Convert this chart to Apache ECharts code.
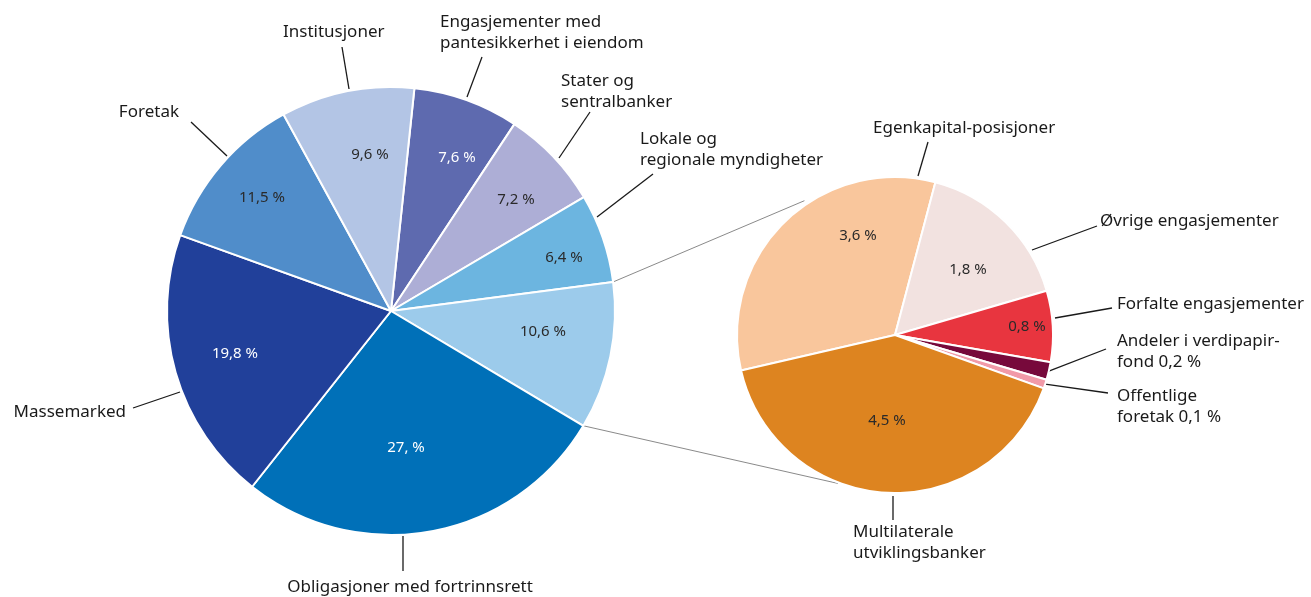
<!DOCTYPE html>
<html><head><meta charset="utf-8">
<script src="https://cdn.jsdelivr.net/npm/echarts@6/dist/echarts.min.js"></script>
<style>html,body{margin:0;padding:0;background:#fff}#c{width:1311px;height:597px}</style>
</head><body><div id="c"></div>
<script>
// ---------- DATA ----------
const mainCategories = ['Engasjementer med pantesikkerhet i eiendom', 'Stater og sentralbanker', 'Lokale og regionale myndigheter', 'Andre (utdypet)', 'Obligasjoner med fortrinnsrett', 'Massemarked', 'Foretak', 'Institusjoner'];
const mainValues = [7.6, 7.2, 6.4, 10.6, 27, 19.8, 11.5, 9.6];
const mainLabels = ['Engasjementer med\npantesikkerhet i eiendom', 'Stater og\nsentralbanker', 'Lokale og\nregionale myndigheter', '', 'Obligasjoner med fortrinnsrett', 'Massemarked', 'Foretak', 'Institusjoner'];

const subCategories = ['Egenkapital-posisjoner', 'Øvrige engasjementer', 'Forfalte engasjementer', 'Andeler i verdipapirfond', 'Offentlige foretak', 'Multilaterale utviklingsbanker'];
const subValues = [3.6, 1.8, 0.8, 0.2, 0.1, 4.5];
const subLabels = ['Egenkapital-posisjoner', 'Øvrige engasjementer', 'Forfalte engasjementer', 'Andeler i verdipapir-\nfond', 'Offentlige\nforetak', 'Multilaterale\nutviklingsbanker'];
const subValueInName = [false, false, false, true, true, false];
const expandedIndex = 3; // main slice broken out into the second pie

// ---------- STYLE / LAYOUT ----------
const FONT = '"Noto Sans", sans-serif';
const TEXT = '#1a1a1a';
const mainColors = ['#5e6aaf', '#adaed6', '#6cb5e0', '#9ccbeb', '#0070b8', '#21409a', '#508dca', '#b3c5e5'];
const subColors = ['#f9c69c', '#f2e2e0', '#e8353f', '#77093b', '#f19aa8', '#dd8420'];
const MAIN = { c: [391, 311], r: 224, start: 84 };
const SUB = { c: [895, 335], r: 158, start: 193 };
const subConnectAngles = [124, 249]; // math degrees on the second pie

const mainNamePos = [
  { x: 440, y: 32.5, align: 'left', from: [467, 97], to: [482, 57] },
  { x: 561, y: 91.5, align: 'left', from: [559, 158], to: [590, 112] },
  { x: 640, y: 149.5, align: 'left', from: [597, 217], to: [653, 174] },
  null,
  { x: 410, y: 587, align: 'center', from: [403, 536], to: [403, 571] },
  { x: 126, y: 412, align: 'right', from: [180, 392], to: [133, 408] },
  { x: 179, y: 112, align: 'right', from: [227, 156], to: [191, 122] },
  { x: 283, y: 32, align: 'left', from: [349, 89], to: [342, 47] }
];
const mainPctPos = [[457, 158], [516, 200], [564, 258], [543, 332], [406, 448], [235, 354], [262, 198], [370, 155]];
const mainPctColor = ['#fff', '#2a2a2a', '#2a2a2a', '#2a2a2a', '#fff', '#fff', '#2a2a2a', '#2a2a2a'];

const subNamePos = [
  { x: 873, y: 128, align: 'left', from: [918, 176], to: [928, 142] },
  { x: 1100, y: 221, align: 'left', from: [1032, 250], to: [1097, 226] },
  { x: 1117, y: 304, align: 'left', from: [1055, 318], to: [1112, 308] },
  { x: 1117, y: 352, align: 'left', to: [1106, 349] },
  { x: 1117, y: 407, align: 'left', to: [1108, 393] },
  { x: 853, y: 543, align: 'left', from: [893, 496], to: [893, 520] }
];
const subPctPos = [[858, 236], [968, 270], [1027, 327], null, null, [887, 421]];

// ---------- HELPERS ----------
function fmtPct(v) {
  let s = String(v).replace('.', ',');
  if (s.indexOf(',') < 0) s += ',';
  return s + ' %';
}
function sum(a) { return a.reduce((s, v) => s + v, 0); }
function boundaryAngle(values, start, k) { // math degrees of boundary before item k
  let cum = 0; for (let j = 0; j < k; j++) cum += values[j];
  return start - cum / sum(values) * 360;
}
function midAngle(values, start, i) {
  return (boundaryAngle(values, start, i) + boundaryAngle(values, start, i + 1)) / 2;
}
function polar(c, r, deg) {
  const a = deg * Math.PI / 180;
  return [c[0] + r * Math.cos(a), c[1] - r * Math.sin(a)];
}

function nameSeries(geo, cats, vals, colors, texts, pos) {
  return {
    type: 'pie', center: geo.c, radius: geo.r, startAngle: geo.start, clockwise: true,
    avoidLabelOverlap: false, silent: true, z: 2,
    itemStyle: { borderColor: '#fff', borderWidth: 2 },
    label: { show: true, position: 'outside', color: TEXT, fontFamily: FONT, fontSize: 17, lineHeight: 21,
      formatter: p => texts[p.dataIndex] },
    labelLine: { show: true, lineStyle: { color: TEXT, width: 1.3 } },
    emphasis: { disabled: true },
    labelLayout: p => {
      const q = pos[p.dataIndex];
      if (!q) return {};
      const from = q.from || polar(geo.c, geo.r, midAngle(vals, geo.start, p.dataIndex));
      return { x: q.x, y: q.y, align: q.align, verticalAlign: 'middle', hideOverlap: false,
        labelLinePoints: [from, q.to, q.to] };
    },
    data: cats.map((n, i) => ({
      name: n, value: vals[i], itemStyle: { color: colors[i] },
      label: { show: !!pos[i] }, labelLine: { show: !!pos[i] }
    }))
  };
}
function pctSeries(geo, cats, vals, pos, colors) {
  return {
    type: 'pie', center: geo.c, radius: geo.r, startAngle: geo.start, clockwise: true,
    avoidLabelOverlap: false, silent: true, z: 3,
    itemStyle: { color: 'rgba(0,0,0,0)', borderWidth: 0 },
    label: { show: true, position: 'inside', fontFamily: FONT, fontSize: 15, formatter: p => fmtPct(p.value) },
    labelLine: { show: false },
    emphasis: { disabled: true },
    labelLayout: p => {
      const q = pos[p.dataIndex];
      if (!q) return {};
      return { x: q[0], y: q[1], align: 'center', verticalAlign: 'middle', hideOverlap: false };
    },
    data: cats.map((n, i) => ({
      name: n, value: vals[i],
      label: { show: !!pos[i], color: colors ? colors[i] : '#2a2a2a' }
    }))
  };
}

// connector lines from the broken-out slice to the second pie
const pA = polar(MAIN.c, MAIN.r, boundaryAngle(mainValues, MAIN.start, expandedIndex));
const pB = polar(MAIN.c, MAIN.r, boundaryAngle(mainValues, MAIN.start, expandedIndex + 1));
const qA = polar(SUB.c, SUB.r + 4, subConnectAngles[0]);
const qB = polar(SUB.c, SUB.r + 1, subConnectAngles[1]);

const subTexts = subLabels.map((t, i) => subValueInName[i] ? t + ' ' + fmtPct(subValues[i]) : t);

const chart = echarts.init(document.getElementById('c'), null, { renderer: 'canvas' });
chart.setOption({
  animation: false,
  backgroundColor: '#fff',
  textStyle: { fontFamily: FONT },
  graphic: [
    { type: 'polyline', silent: true, z: 0, shape: { points: [pA, qA] }, style: { stroke: '#8a8a8a', lineWidth: 1, fill: null } },
    { type: 'polyline', silent: true, z: 0, shape: { points: [pB, qB] }, style: { stroke: '#8a8a8a', lineWidth: 1, fill: null } }
  ],
  series: [
    nameSeries(MAIN, mainCategories, mainValues, mainColors, mainLabels, mainNamePos),
    pctSeries(MAIN, mainCategories, mainValues, mainPctPos, mainPctColor),
    nameSeries(SUB, subCategories, subValues, subColors, subTexts, subNamePos),
    pctSeries(SUB, subCategories, subValues, subPctPos, null)
  ]
});
</script>
</body></html>
